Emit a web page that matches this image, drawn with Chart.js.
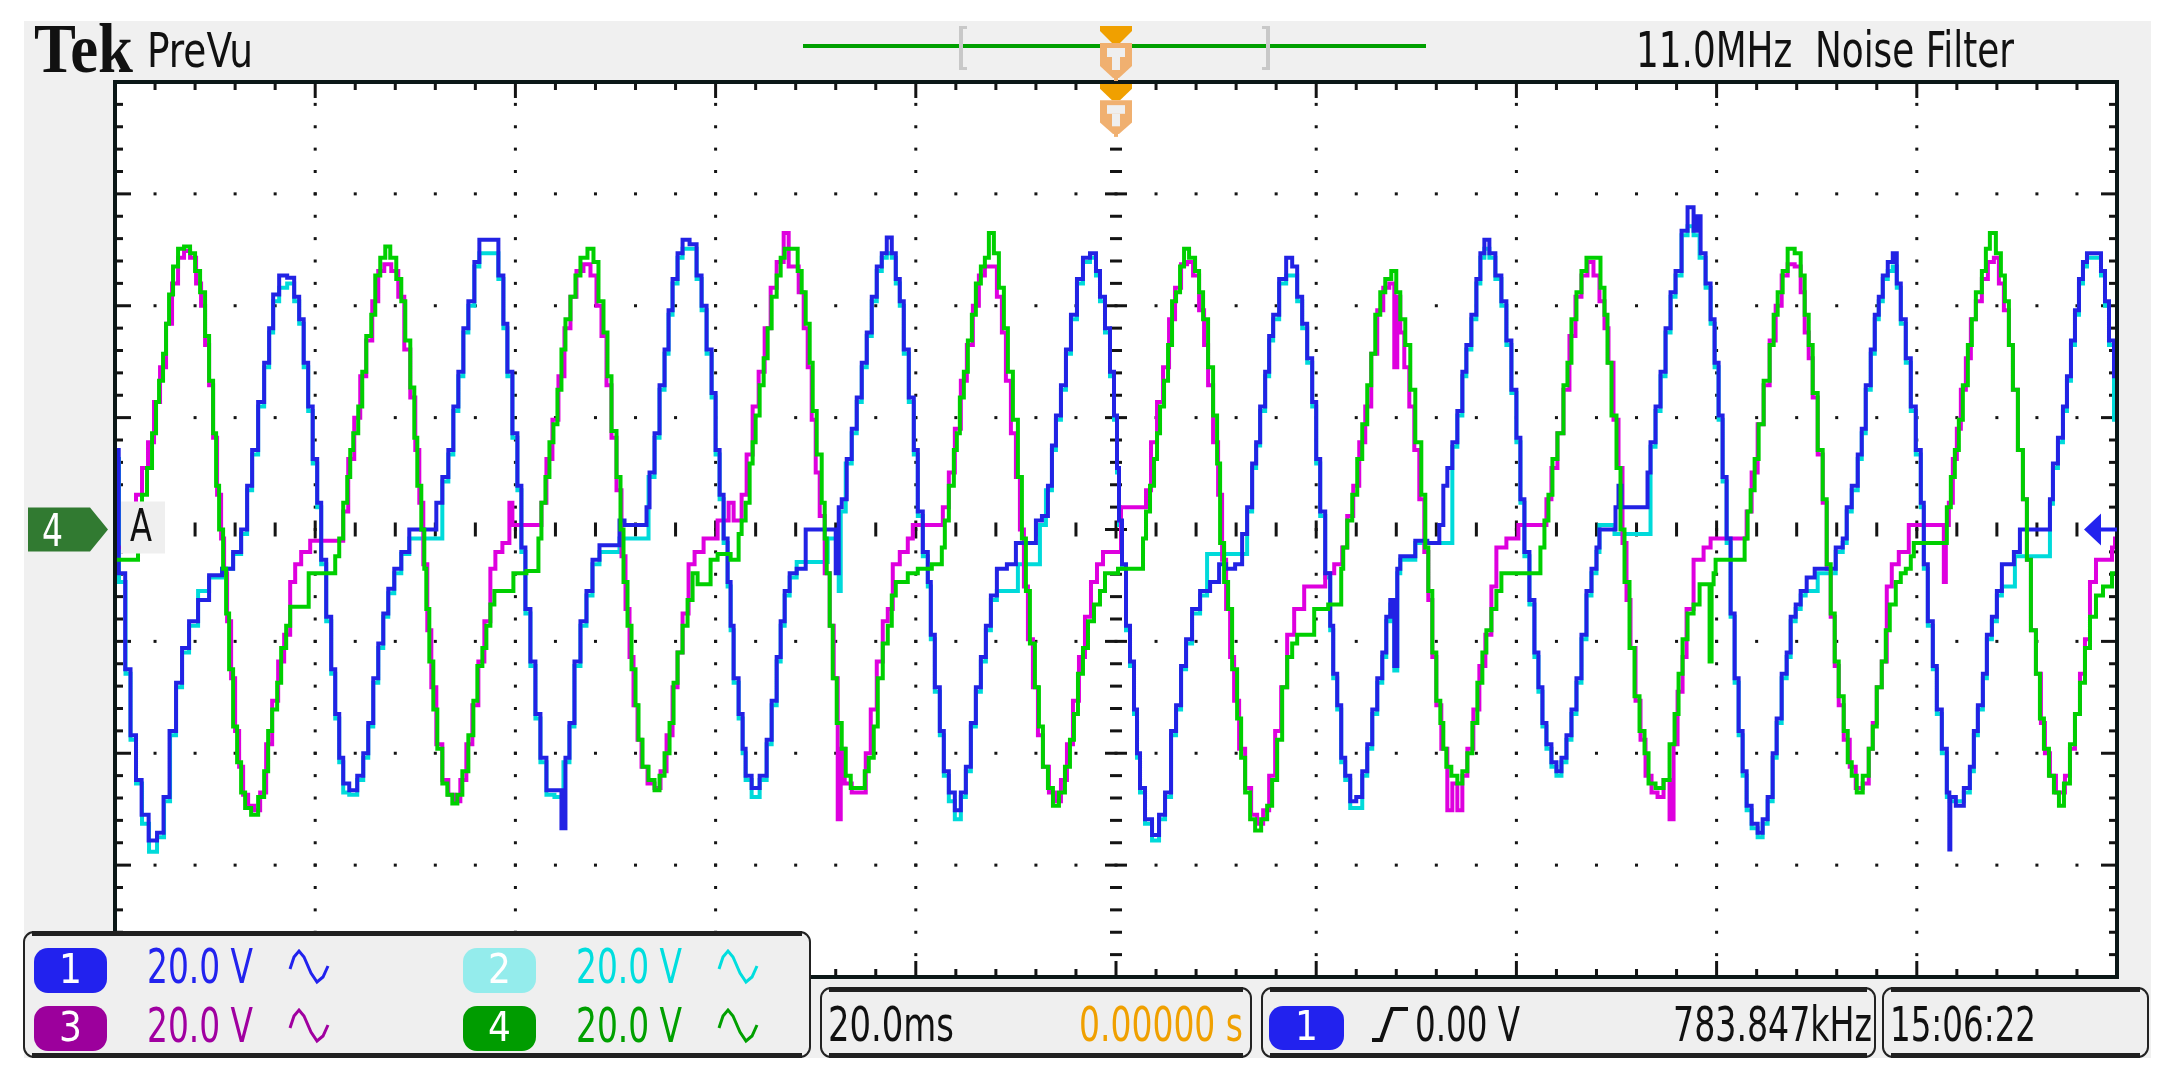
<!DOCTYPE html>
<html>
<head>
<meta charset="utf-8">
<title>Tek PreVu</title>
<script src="https://cdn.jsdelivr.net/npm/chart.js@4/dist/chart.umd.min.js"></script>
<style>
  body { margin: 0; background: #ffffff; }
  #grafica { display: block; }
</style>
</head>
<body>
<canvas id="grafica" width="2173" height="1084"></canvas>
<script>
// ejes en divisiones de la reticula: x 0..10 (20.0 ms/div), y -4..4 (20.0 V/div)
const canales = ["1", "2", "3", "4"]
const voltios_div = ["20.0 V", "20.0 V", "20.0 V", "20.0 V"]
const base_tiempo = "20.0ms"
const posicion = "0.00000 s"
const nivel_disparo = "0.00 V"
const frecuencia = "783.847kHz"
const hora = "15:06:22"
const filtro = "11.0MHz  Noise Filter"

// canal 1 (azul)
const canal1 = [[0.00,0.71],[0.037,-0.39],[0.065,-1.25],[0.09,-1.84],[0.12,-2.24],[0.146,-2.55],[0.19,-2.78],[0.23,-2.71],[0.255,-2.39],[0.29,-1.80],[0.32,-1.37],[0.35,-1.06],[0.39,-0.82],[0.44,-0.63],[0.50,-0.41],[0.57,-0.35],[0.61,-0.20],[0.65,0.00],[0.67,0.39],[0.70,0.71],[0.73,1.14],[0.76,1.49],[0.78,1.80],[0.80,2.10],[0.84,2.27],[0.88,2.25],[0.91,2.08],[0.93,1.88],[0.955,1.49],[0.975,1.10],[1.00,0.63],[1.02,0.24],[1.04,-0.27],[1.07,-0.78],[1.09,-1.25],[1.11,-1.65],[1.13,-2.04],[1.15,-2.27],[1.19,-2.33],[1.23,-2.20],[1.25,-2.00],[1.28,-1.73],[1.30,-1.33],[1.33,-1.02],[1.35,-0.75],[1.38,-0.53],[1.41,-0.35],[1.45,-0.20],[1.49,0.00],[1.59,0.00],[1.62,0.24],[1.65,0.47],[1.68,0.71],[1.70,1.10],[1.73,1.41],[1.75,1.80],[1.78,2.04],[1.81,2.39],[1.83,2.59],[1.90,2.59],[1.93,2.27],[1.95,1.84],[1.97,1.41],[2.00,0.86],[2.02,0.39],[2.04,-0.16],[2.06,-0.71],[2.09,-1.18],[2.11,-1.65],[2.14,-2.04],[2.17,-2.33],[2.22,-2.33],[2.24,-2.67],[2.26,-2.04],[2.28,-1.73],[2.31,-1.18],[2.34,-0.82],[2.37,-0.55],[2.40,-0.27],[2.44,-0.14],[2.51,-0.14],[2.53,0.08],[2.56,0.04],[2.65,0.04],[2.66,0.20],[2.68,0.51],[2.71,0.86],[2.73,1.29],[2.76,1.61],[2.77,1.96],[2.80,2.24],[2.82,2.47],[2.85,2.59],[2.89,2.55],[2.92,2.27],[2.94,2.00],[2.97,1.61],[2.99,1.22],[3.01,0.71],[3.03,0.31],[3.05,-0.08],[3.07,-0.47],[3.08,-0.86],[3.10,-1.33],[3.13,-1.65],[3.14,-1.96],[3.16,-2.20],[3.20,-2.31],[3.24,-2.20],[3.27,-1.88],[3.29,-1.53],[3.32,-1.14],[3.33,-0.82],[3.36,-0.55],[3.38,-0.39],[3.43,-0.35],[3.47,0.00],[3.59,0.00],[3.61,-0.39],[3.62,0.20],[3.64,0.27],[3.67,0.63],[3.69,0.90],[3.72,1.18],[3.74,1.49],[3.77,1.76],[3.79,2.08],[3.82,2.35],[3.84,2.47],[3.87,2.61],[3.89,2.47],[3.91,2.24],[3.93,2.04],[3.95,1.61],[3.98,1.18],[4.00,0.71],[4.02,0.16],[4.05,-0.20],[4.07,-0.47],[4.08,-0.94],[4.11,-1.41],[4.13,-1.80],[4.15,-2.16],[4.18,-2.35],[4.21,-2.51],[4.24,-2.35],[4.26,-2.12],[4.29,-1.73],[4.31,-1.41],[4.34,-1.14],[4.36,-0.86],[4.39,-0.59],[4.42,-0.35],[4.49,-0.31],[4.51,-0.12],[4.59,-0.12],[4.61,0.08],[4.65,0.12],[4.67,0.39],[4.69,0.75],[4.71,1.02],[4.74,1.29],[4.76,1.61],[4.79,1.92],[4.82,2.24],[4.85,2.43],[4.89,2.47],[4.91,2.31],[4.93,2.08],[4.96,1.80],[4.98,1.41],[5.00,1.02],[5.01,0.55],[5.02,0.08],[5.04,-0.31],[5.06,-0.86],[5.08,-1.18],[5.10,-1.61],[5.11,-2.00],[5.13,-2.31],[5.16,-2.59],[5.20,-2.73],[5.23,-2.55],[5.26,-2.35],[5.29,-1.80],[5.31,-1.57],[5.34,-1.22],[5.36,-0.98],[5.40,-0.71],[5.44,-0.55],[5.50,-0.47],[5.53,-0.31],[5.57,-0.35],[5.62,-0.31],[5.64,-0.04],[5.67,0.20],[5.69,0.59],[5.71,0.78],[5.73,1.10],[5.76,1.41],[5.77,1.73],[5.80,1.92],[5.83,2.24],[5.87,2.43],[5.89,2.35],[5.92,2.08],[5.94,1.84],[5.97,1.53],[5.99,1.14],[6.01,0.63],[6.03,0.16],[6.06,-0.39],[6.08,-0.86],[6.09,-1.29],[6.12,-1.57],[6.13,-2.04],[6.16,-2.20],[6.18,-2.43],[6.22,-2.39],[6.24,-2.16],[6.27,-1.92],[6.29,-1.61],[6.32,-1.33],[6.34,-1.10],[6.36,-0.78],[6.38,-0.63],[6.40,-1.22],[6.41,-0.35],[6.43,-0.24],[6.48,-0.24],[6.51,-0.10],[6.60,-0.12],[6.63,0.04],[6.64,0.39],[6.67,0.55],[6.69,0.78],[6.72,1.06],[6.74,1.41],[6.76,1.65],[6.79,1.92],[6.81,2.24],[6.83,2.47],[6.85,2.59],[6.88,2.47],[6.91,2.27],[6.94,2.04],[6.96,1.69],[6.99,1.25],[7.01,0.82],[7.03,0.27],[7.05,-0.20],[7.08,-0.63],[7.10,-1.10],[7.12,-1.41],[7.14,-1.73],[7.16,-1.92],[7.19,-2.08],[7.21,-2.16],[7.24,-2.04],[7.26,-1.84],[7.29,-1.61],[7.31,-1.33],[7.34,-0.94],[7.36,-0.55],[7.39,-0.35],[7.41,-0.16],[7.42,0.00],[7.49,0.00],[7.50,0.20],[7.52,0.39],[7.53,0.20],[7.65,0.20],[7.66,0.51],[7.68,0.78],[7.71,1.10],[7.73,1.41],[7.76,1.80],[7.78,2.12],[7.81,2.31],[7.84,2.67],[7.87,2.88],[7.90,2.67],[7.91,2.80],[7.93,2.47],[7.96,2.20],[7.98,1.88],[8.00,1.49],[8.02,1.02],[8.04,0.47],[8.06,-0.08],[8.08,-0.75],[8.10,-1.33],[8.12,-1.80],[8.14,-2.16],[8.16,-2.47],[8.19,-2.63],[8.22,-2.71],[8.24,-2.59],[8.27,-2.39],[8.29,-2.00],[8.31,-1.69],[8.34,-1.29],[8.36,-1.10],[8.38,-0.78],[8.41,-0.67],[8.43,-0.55],[8.47,-0.43],[8.51,-0.35],[8.57,-0.35],[8.62,-0.16],[8.64,-0.08],[8.66,0.20],[8.69,0.39],[8.72,0.67],[8.73,0.90],[8.76,1.29],[8.78,1.61],[8.80,1.92],[8.82,2.08],[8.84,2.27],[8.87,2.39],[8.89,2.47],[8.91,2.20],[8.93,1.88],[8.96,1.53],[8.98,1.10],[9.01,0.71],[9.03,0.24],[9.04,-0.31],[9.07,-0.82],[9.09,-1.22],[9.11,-1.61],[9.14,-1.96],[9.16,-2.35],[9.165,-2.86],[9.17,-2.39],[9.22,-2.47],[9.25,-2.31],[9.28,-2.12],[9.29,-1.80],[9.32,-1.57],[9.34,-1.29],[9.36,-0.94],[9.39,-0.78],[9.41,-0.55],[9.44,-0.31],[9.47,-0.31],[9.50,-0.20],[9.53,0.00],[9.66,0.00],[9.67,0.27],[9.69,0.59],[9.72,0.82],[9.74,1.10],[9.76,1.37],[9.78,1.69],[9.80,1.96],[9.82,2.24],[9.84,2.39],[9.86,2.47],[9.91,2.47],[9.93,2.31],[9.95,2.04],[9.97,1.69],[10.0,1.37]]

// canal 2 (cian)
const canal2 = [[0.00,0.63],[0.04,-0.47],[0.065,-1.29],[0.09,-1.88],[0.12,-2.27],[0.15,-2.63],[0.19,-2.88],[0.23,-2.75],[0.26,-2.43],[0.29,-1.84],[0.32,-1.41],[0.35,-1.10],[0.39,-0.86],[0.44,-0.55],[0.50,-0.43],[0.57,-0.35],[0.61,-0.22],[0.65,-0.04],[0.67,0.35],[0.70,0.67],[0.73,1.10],[0.76,1.45],[0.78,1.76],[0.80,2.04],[0.84,2.16],[0.88,2.20],[0.91,2.04],[0.93,1.84],[0.955,1.45],[0.975,1.06],[1.00,0.59],[1.02,0.20],[1.04,-0.31],[1.07,-0.82],[1.09,-1.29],[1.11,-1.69],[1.13,-2.08],[1.15,-2.35],[1.19,-2.37],[1.23,-2.24],[1.25,-2.04],[1.28,-1.76],[1.30,-1.37],[1.33,-1.06],[1.35,-0.78],[1.38,-0.57],[1.41,-0.39],[1.45,-0.22],[1.49,-0.08],[1.62,-0.08],[1.65,0.43],[1.68,0.67],[1.70,1.06],[1.73,1.37],[1.75,1.76],[1.78,2.00],[1.81,2.35],[1.83,2.47],[1.90,2.47],[1.93,2.24],[1.95,1.80],[1.97,1.37],[2.00,0.82],[2.02,0.35],[2.04,-0.20],[2.06,-0.75],[2.09,-1.22],[2.11,-1.69],[2.14,-2.08],[2.17,-2.37],[2.22,-2.39],[2.26,-2.08],[2.28,-1.76],[2.31,-1.22],[2.34,-0.86],[2.37,-0.59],[2.40,-0.31],[2.44,-0.20],[2.51,-0.20],[2.53,-0.08],[2.65,-0.08],[2.68,0.47],[2.71,0.82],[2.73,1.25],[2.76,1.57],[2.77,1.92],[2.80,2.20],[2.82,2.43],[2.85,2.51],[2.89,2.51],[2.92,2.24],[2.94,1.96],[2.97,1.57],[2.99,1.18],[3.01,0.67],[3.03,0.27],[3.05,-0.12],[3.07,-0.51],[3.08,-0.90],[3.10,-1.37],[3.13,-1.69],[3.14,-2.00],[3.16,-2.24],[3.20,-2.39],[3.24,-2.24],[3.27,-1.92],[3.29,-1.57],[3.32,-1.18],[3.33,-0.86],[3.36,-0.59],[3.38,-0.43],[3.43,-0.29],[3.55,-0.29],[3.57,-0.08],[3.61,-0.08],[3.62,-0.55],[3.63,0.16],[3.67,0.59],[3.69,0.86],[3.72,1.14],[3.74,1.45],[3.77,1.73],[3.79,2.04],[3.82,2.31],[3.84,2.43],[3.87,2.47],[3.89,2.43],[3.91,2.20],[3.93,2.00],[3.95,1.57],[3.98,1.14],[4.00,0.67],[4.02,0.12],[4.05,-0.24],[4.07,-0.51],[4.08,-0.98],[4.11,-1.45],[4.13,-1.84],[4.15,-2.20],[4.18,-2.43],[4.21,-2.59],[4.24,-2.39],[4.26,-2.16],[4.29,-1.76],[4.31,-1.45],[4.34,-1.18],[4.36,-0.90],[4.39,-0.63],[4.42,-0.55],[4.50,-0.55],[4.52,-0.31],[4.61,-0.31],[4.63,0.04],[4.67,0.35],[4.69,0.71],[4.71,0.98],[4.74,1.25],[4.76,1.57],[4.79,1.88],[4.82,2.20],[4.85,2.39],[4.89,2.43],[4.91,2.27],[4.93,2.04],[4.96,1.76],[4.98,1.37],[5.00,0.98],[5.01,0.51],[5.02,0.04],[5.04,-0.35],[5.06,-0.90],[5.08,-1.22],[5.10,-1.65],[5.11,-2.04],[5.13,-2.35],[5.16,-2.63],[5.20,-2.78],[5.23,-2.59],[5.26,-2.39],[5.29,-1.84],[5.31,-1.61],[5.34,-1.25],[5.36,-1.02],[5.40,-0.75],[5.44,-0.59],[5.47,-0.22],[5.64,-0.22],[5.67,0.16],[5.69,0.55],[5.71,0.75],[5.73,1.06],[5.76,1.37],[5.77,1.69],[5.80,1.88],[5.83,2.20],[5.87,2.27],[5.89,2.27],[5.92,2.04],[5.94,1.80],[5.97,1.49],[5.99,1.10],[6.01,0.59],[6.03,0.12],[6.06,-0.43],[6.08,-0.90],[6.09,-1.33],[6.12,-1.61],[6.13,-2.08],[6.16,-2.24],[6.18,-2.49],[6.22,-2.49],[6.24,-2.20],[6.27,-1.96],[6.29,-1.65],[6.32,-1.37],[6.34,-1.14],[6.36,-0.82],[6.38,-0.67],[6.40,-1.26],[6.41,-0.39],[6.43,-0.27],[6.48,-0.27],[6.51,-0.12],[6.67,-0.12],[6.69,0.74],[6.72,1.02],[6.74,1.37],[6.76,1.61],[6.79,1.88],[6.81,2.20],[6.83,2.43],[6.85,2.51],[6.88,2.43],[6.91,2.24],[6.94,2.00],[6.96,1.65],[6.99,1.22],[7.01,0.78],[7.03,0.24],[7.05,-0.24],[7.08,-0.67],[7.10,-1.14],[7.12,-1.45],[7.14,-1.76],[7.16,-1.96],[7.19,-2.12],[7.21,-2.20],[7.24,-2.08],[7.26,-1.88],[7.29,-1.65],[7.31,-1.37],[7.34,-0.98],[7.36,-0.59],[7.39,-0.39],[7.41,-0.20],[7.42,0.04],[7.48,0.04],[7.50,-0.04],[7.66,-0.04],[7.68,0.74],[7.71,1.06],[7.73,1.37],[7.76,1.76],[7.78,2.08],[7.81,2.27],[7.84,2.63],[7.87,2.71],[7.90,2.63],[7.93,2.43],[7.96,2.16],[7.98,1.84],[8.00,1.45],[8.02,0.98],[8.04,0.43],[8.06,-0.12],[8.08,-0.78],[8.10,-1.37],[8.12,-1.84],[8.14,-2.20],[8.16,-2.51],[8.19,-2.67],[8.22,-2.75],[8.24,-2.63],[8.27,-2.43],[8.29,-2.04],[8.31,-1.73],[8.34,-1.33],[8.36,-1.14],[8.38,-0.82],[8.41,-0.71],[8.43,-0.59],[8.46,-0.55],[8.50,-0.55],[8.51,-0.39],[8.57,-0.39],[8.62,-0.20],[8.64,-0.12],[8.66,0.16],[8.69,0.35],[8.72,0.63],[8.73,0.86],[8.76,1.25],[8.78,1.57],[8.80,1.88],[8.82,2.04],[8.84,2.24],[8.87,2.31],[8.89,2.35],[8.91,2.16],[8.93,1.84],[8.96,1.49],[8.98,1.06],[9.01,0.67],[9.03,0.20],[9.04,-0.35],[9.07,-0.86],[9.09,-1.25],[9.11,-1.65],[9.14,-2.00],[9.16,-2.39],[9.17,-2.43],[9.22,-2.43],[9.25,-2.35],[9.28,-2.16],[9.29,-1.84],[9.32,-1.61],[9.34,-1.33],[9.36,-0.98],[9.39,-0.82],[9.41,-0.59],[9.44,-0.51],[9.48,-0.51],[9.50,-0.24],[9.66,-0.24],[9.67,0.23],[9.69,0.55],[9.72,0.78],[9.74,1.06],[9.76,1.33],[9.78,1.65],[9.80,1.92],[9.82,2.20],[9.84,2.35],[9.86,2.43],[9.91,2.43],[9.93,2.27],[9.95,2.00],[9.97,1.65],[10.0,0.98]]

// canal 3 (magenta)
const canal3 = [[0.00,-0.16],[0.06,-0.16],[0.09,0.20],[0.12,0.31],[0.15,0.55],[0.18,0.78],[0.21,1.14],[0.24,1.45],[0.27,1.84],[0.30,2.20],[0.33,2.43],[0.36,2.49],[0.39,2.43],[0.42,2.20],[0.44,2.00],[0.46,1.65],[0.48,1.29],[0.50,0.82],[0.52,0.31],[0.54,-0.08],[0.55,-0.39],[0.57,-0.82],[0.59,-1.33],[0.61,-1.80],[0.63,-2.12],[0.65,-2.37],[0.68,-2.47],[0.71,-2.51],[0.74,-2.35],[0.77,-1.92],[0.80,-1.53],[0.83,-1.18],[0.86,-0.94],[0.89,-0.47],[0.91,-0.31],[0.95,-0.20],[1.00,-0.10],[1.13,-0.10],[1.15,0.16],[1.18,0.63],[1.21,1.00],[1.24,1.37],[1.27,1.69],[1.30,2.04],[1.33,2.31],[1.36,2.37],[1.40,2.31],[1.43,2.08],[1.46,1.61],[1.49,1.18],[1.51,0.71],[1.53,0.24],[1.55,-0.31],[1.57,-0.90],[1.59,-1.41],[1.62,-1.92],[1.65,-2.24],[1.68,-2.37],[1.71,-2.43],[1.74,-2.24],[1.77,-1.92],[1.80,-1.57],[1.83,-1.18],[1.86,-0.82],[1.89,-0.35],[1.91,-0.20],[1.96,-0.12],[1.98,0.24],[1.99,0.04],[2.12,0.04],[2.14,0.24],[2.17,0.63],[2.20,0.98],[2.23,1.37],[2.26,1.80],[2.29,2.08],[2.32,2.31],[2.36,2.37],[2.39,2.27],[2.42,2.00],[2.44,1.73],[2.47,1.29],[2.49,0.82],[2.52,0.35],[2.54,-0.24],[2.56,-0.71],[2.58,-1.14],[2.60,-1.57],[2.62,-1.88],[2.64,-2.12],[2.68,-2.27],[2.71,-2.31],[2.74,-2.16],[2.77,-1.84],[2.80,-1.41],[2.82,-1.10],[2.85,-0.75],[2.88,-0.31],[2.91,-0.20],[2.97,-0.08],[3.05,0.08],[3.08,0.24],[3.10,0.08],[3.12,0.08],[3.14,0.31],[3.17,0.67],[3.20,1.10],[3.23,1.41],[3.26,1.80],[3.29,2.16],[3.32,2.39],[3.36,2.65],[3.37,2.35],[3.40,2.35],[3.43,2.12],[3.45,1.80],[3.47,1.45],[3.49,0.98],[3.51,0.51],[3.53,0.12],[3.56,-0.39],[3.58,-0.86],[3.60,-1.33],[3.62,-2.59],[3.63,-1.96],[3.66,-2.27],[3.70,-2.35],[3.74,-2.35],[3.76,-2.00],[3.79,-1.61],[3.82,-1.18],[3.85,-0.82],[3.87,-0.71],[3.90,-0.31],[3.94,-0.20],[3.98,-0.08],[3.99,0.04],[4.12,0.04],[4.15,0.20],[4.18,0.51],[4.21,0.90],[4.24,1.33],[4.27,1.65],[4.30,2.00],[4.33,2.27],[4.36,2.35],[4.39,2.35],[4.42,2.08],[4.44,1.76],[4.46,1.33],[4.49,0.86],[4.51,0.47],[4.53,0.00],[4.55,-0.51],[4.57,-0.98],[4.60,-1.41],[4.62,-1.84],[4.65,-2.12],[4.68,-2.35],[4.71,-2.43],[4.74,-2.24],[4.77,-1.92],[4.80,-1.53],[4.83,-1.14],[4.86,-0.78],[4.89,-0.47],[4.92,-0.31],[4.95,-0.20],[5.02,-0.20],[5.03,0.20],[5.14,0.20],[5.16,0.35],[5.19,0.78],[5.22,1.14],[5.25,1.45],[5.28,1.88],[5.31,2.16],[5.34,2.37],[5.37,2.39],[5.40,2.27],[5.43,1.96],[5.45,1.65],[5.47,1.29],[5.50,0.78],[5.52,0.31],[5.54,-0.27],[5.56,-0.71],[5.58,-1.14],[5.60,-1.53],[5.63,-1.96],[5.66,-2.31],[5.69,-2.55],[5.72,-2.63],[5.75,-2.51],[5.78,-2.20],[5.81,-1.80],[5.84,-1.41],[5.87,-0.94],[5.91,-0.71],[5.97,-0.51],[6.03,-0.51],[6.06,-0.39],[6.12,-0.31],[6.14,-0.16],[6.17,0.12],[6.20,0.39],[6.23,0.78],[6.26,1.10],[6.29,1.57],[6.32,1.96],[6.35,2.16],[6.38,2.20],[6.40,1.45],[6.41,2.08],[6.43,1.76],[6.45,1.45],[6.48,1.10],[6.50,0.71],[6.53,0.27],[6.55,-0.20],[6.57,-0.63],[6.59,-1.14],[6.61,-1.57],[6.64,-1.96],[6.67,-2.51],[6.69,-2.27],[6.72,-2.51],[6.74,-2.20],[6.77,-1.96],[6.80,-1.61],[6.83,-1.22],[6.86,-0.94],[6.89,-0.51],[6.91,-0.16],[6.99,-0.08],[7.03,0.04],[7.14,0.04],[7.16,0.27],[7.19,0.55],[7.22,0.86],[7.25,1.25],[7.28,1.73],[7.31,2.08],[7.34,2.27],[7.37,2.39],[7.40,2.27],[7.43,2.04],[7.45,1.80],[7.47,1.49],[7.50,0.98],[7.52,0.55],[7.54,-0.12],[7.56,-0.63],[7.58,-1.06],[7.61,-1.53],[7.63,-1.88],[7.66,-2.20],[7.69,-2.35],[7.72,-2.39],[7.75,-2.24],[7.78,-2.59],[7.79,-1.92],[7.82,-1.45],[7.84,-1.14],[7.86,-0.71],[7.91,-0.27],[7.96,-0.16],[7.98,-0.08],[8.14,-0.08],[8.16,0.16],[8.19,0.51],[8.22,0.94],[8.25,1.29],[8.28,1.69],[8.31,2.00],[8.34,2.27],[8.37,2.37],[8.41,2.35],[8.43,2.12],[8.45,1.76],[8.47,1.53],[8.49,1.18],[8.52,0.67],[8.54,0.24],[8.56,-0.35],[8.58,-0.78],[8.60,-1.22],[8.62,-1.57],[8.65,-1.88],[8.68,-2.12],[8.71,-2.31],[8.75,-2.27],[8.77,-1.96],[8.79,-1.73],[8.81,-1.41],[8.84,-1.18],[8.86,-0.51],[8.89,-0.31],[8.93,-0.20],[8.99,0.04],[9.13,0.04],[9.14,-0.47],[9.15,0.04],[9.17,0.24],[9.19,0.63],[9.21,0.90],[9.23,1.25],[9.26,1.53],[9.28,1.88],[9.31,2.04],[9.34,2.24],[9.37,2.39],[9.40,2.43],[9.42,2.20],[9.45,1.96],[9.47,1.65],[9.49,1.25],[9.52,0.71],[9.54,0.27],[9.56,-0.27],[9.58,-0.90],[9.61,-1.29],[9.63,-1.73],[9.65,-2.00],[9.68,-2.20],[9.71,-2.35],[9.73,-2.35],[9.75,-2.20],[9.78,-1.96],[9.80,-1.65],[9.83,-1.29],[9.85,-0.98],[9.88,-0.47],[9.91,-0.27],[9.97,-0.27],[9.98,-0.16],[10.0,-0.08]]

// canal 4 (verde)
const canal4 = [[0.00,-0.27],[0.11,-0.27],[0.12,-0.04],[0.15,0.31],[0.17,0.55],[0.20,0.86],[0.21,1.14],[0.23,1.33],[0.25,1.57],[0.26,1.84],[0.28,2.10],[0.30,2.35],[0.33,2.51],[0.36,2.53],[0.39,2.47],[0.41,2.31],[0.44,2.12],[0.46,1.73],[0.48,1.33],[0.50,0.86],[0.51,0.39],[0.53,0.00],[0.55,-0.35],[0.56,-0.75],[0.58,-1.25],[0.60,-1.76],[0.62,-2.08],[0.64,-2.35],[0.66,-2.49],[0.70,-2.55],[0.73,-2.39],[0.76,-2.16],[0.77,-1.80],[0.80,-1.61],[0.82,-1.37],[0.84,-1.06],[0.87,-0.86],[0.88,-0.69],[0.96,-0.69],[0.975,-0.39],[1.09,-0.39],[1.11,-0.24],[1.13,-0.08],[1.15,0.24],[1.17,0.47],[1.18,0.71],[1.20,0.86],[1.23,1.10],[1.24,1.41],[1.27,1.73],[1.29,1.92],[1.31,2.27],[1.34,2.43],[1.36,2.53],[1.39,2.43],[1.42,2.24],[1.44,2.04],[1.46,1.69],[1.49,1.27],[1.50,0.82],[1.52,0.39],[1.54,0.00],[1.55,-0.35],[1.56,-0.71],[1.58,-1.18],[1.60,-1.61],[1.62,-1.96],[1.65,-2.27],[1.67,-2.37],[1.70,-2.45],[1.72,-2.37],[1.75,-2.16],[1.78,-1.84],[1.80,-1.53],[1.82,-1.22],[1.85,-1.06],[1.86,-0.86],[1.89,-0.67],[1.90,-0.55],[1.98,-0.55],[2.00,-0.39],[2.11,-0.37],[2.12,-0.08],[2.14,0.24],[2.16,0.47],[2.18,0.78],[2.20,0.94],[2.22,1.25],[2.24,1.61],[2.26,1.88],[2.29,2.08],[2.31,2.27],[2.34,2.43],[2.38,2.51],[2.40,2.39],[2.43,2.04],[2.45,1.76],[2.47,1.37],[2.49,0.88],[2.52,0.47],[2.53,0.00],[2.55,-0.47],[2.57,-0.86],[2.59,-1.25],[2.61,-1.57],[2.62,-1.88],[2.65,-2.12],[2.68,-2.24],[2.71,-2.33],[2.73,-2.20],[2.76,-2.00],[2.78,-1.73],[2.80,-1.37],[2.82,-1.10],[2.85,-0.86],[2.87,-0.63],[2.90,-0.39],[2.92,-0.49],[2.97,-0.49],[2.98,-0.27],[3.04,-0.22],[3.11,-0.27],[3.12,-0.04],[3.14,0.08],[3.16,0.24],[3.18,0.59],[3.19,0.78],[3.21,1.02],[3.23,1.29],[3.25,1.53],[3.27,1.80],[3.29,2.08],[3.32,2.27],[3.33,2.43],[3.36,2.51],[3.40,2.51],[3.42,2.31],[3.44,2.12],[3.46,1.84],[3.48,1.49],[3.49,1.06],[3.52,0.67],[3.54,0.24],[3.55,-0.08],[3.56,-0.39],[3.58,-0.86],[3.59,-1.33],[3.62,-1.73],[3.64,-1.96],[3.66,-2.20],[3.69,-2.31],[3.74,-2.31],[3.75,-2.16],[3.78,-2.04],[3.80,-1.76],[3.82,-1.33],[3.85,-1.02],[3.87,-0.86],[3.89,-0.59],[3.91,-0.47],[3.94,-0.47],[3.98,-0.39],[4.04,-0.35],[4.12,-0.31],[4.14,-0.16],[4.15,0.08],[4.18,0.39],[4.20,0.71],[4.21,0.86],[4.23,1.18],[4.25,1.41],[4.27,1.69],[4.29,1.92],[4.31,2.20],[4.34,2.35],[4.35,2.43],[4.38,2.65],[4.40,2.47],[4.43,2.16],[4.45,1.80],[4.47,1.41],[4.50,0.98],[4.52,0.47],[4.54,-0.08],[4.56,-0.55],[4.58,-1.02],[4.61,-1.41],[4.62,-1.76],[4.65,-2.12],[4.67,-2.31],[4.70,-2.47],[4.73,-2.35],[4.76,-2.12],[4.78,-1.88],[4.80,-1.65],[4.82,-1.29],[4.85,-1.06],[4.87,-0.82],[4.91,-0.67],[4.93,-0.55],[4.96,-0.39],[5.06,-0.35],[5.13,-0.35],[5.14,-0.08],[5.16,0.16],[5.18,0.39],[5.20,0.63],[5.21,0.86],[5.23,1.10],[5.25,1.33],[5.27,1.65],[5.29,2.04],[5.31,2.12],[5.33,2.35],[5.35,2.51],[5.38,2.43],[5.41,2.31],[5.42,2.12],[5.45,1.88],[5.47,1.45],[5.50,1.02],[5.51,0.59],[5.53,-0.12],[5.55,-0.47],[5.57,-0.71],[5.59,-1.25],[5.62,-1.69],[5.63,-2.04],[5.66,-2.35],[5.68,-2.59],[5.71,-2.69],[5.74,-2.59],[5.77,-2.47],[5.79,-2.24],[5.82,-1.88],[5.84,-1.41],[5.87,-1.14],[5.89,-1.02],[5.92,-0.94],[5.98,-0.94],[6.00,-0.71],[6.12,-0.67],[6.13,-0.35],[6.14,-0.16],[6.17,0.08],[6.19,0.31],[6.22,0.63],[6.24,0.94],[6.27,1.29],[6.28,1.57],[6.31,1.92],[6.33,2.12],[6.36,2.24],[6.39,2.31],[6.41,2.12],[6.43,1.88],[6.46,1.65],[6.48,1.25],[6.51,0.78],[6.54,0.31],[6.55,-0.16],[6.57,-0.55],[6.59,-1.10],[6.61,-1.53],[6.63,-1.73],[6.64,-1.96],[6.66,-2.12],[6.69,-2.20],[6.72,-2.27],[6.74,-2.16],[6.77,-2.00],[6.79,-1.73],[6.82,-1.37],[6.84,-1.10],[6.86,-0.90],[6.89,-0.71],[6.91,-0.55],[6.94,-0.39],[7.11,-0.39],[7.13,-0.16],[7.15,0.08],[7.17,0.31],[7.19,0.63],[7.22,0.86],[7.25,1.29],[7.26,1.49],[7.29,1.88],[7.31,2.12],[7.34,2.31],[7.36,2.43],[7.41,2.43],[7.43,2.16],[7.45,1.92],[7.46,1.49],[7.49,1.02],[7.51,0.55],[7.53,0.00],[7.55,-0.47],[7.58,-1.06],[7.60,-1.49],[7.63,-1.80],[7.65,-2.00],[7.67,-2.27],[7.72,-2.31],[7.75,-2.24],[7.78,-1.92],[7.80,-1.65],[7.82,-1.29],[7.84,-0.98],[7.87,-0.75],[7.90,-0.67],[7.93,-0.49],[7.96,-0.49],[7.97,-1.18],[7.98,-0.49],[7.99,-0.39],[8.00,-0.27],[8.13,-0.27],[8.15,-0.08],[8.16,0.16],[8.18,0.35],[8.20,0.63],[8.22,0.94],[8.25,1.33],[8.28,1.65],[8.29,1.92],[8.32,2.12],[8.34,2.31],[8.37,2.51],[8.41,2.47],[8.43,2.27],[8.45,1.92],[8.47,1.65],[8.49,1.22],[8.52,0.71],[8.54,0.27],[8.56,-0.31],[8.58,-0.75],[8.60,-1.18],[8.62,-1.49],[8.65,-1.80],[8.66,-2.08],[8.69,-2.20],[8.71,-2.35],[8.75,-2.20],[8.77,-1.96],[8.79,-1.76],[8.81,-1.41],[8.84,-1.18],[8.85,-0.90],[8.88,-0.67],[8.91,-0.47],[8.93,-0.39],[8.96,-0.35],[8.98,-0.24],[8.99,-0.12],[9.14,-0.12],[9.16,0.20],[9.18,0.47],[9.20,0.71],[9.22,0.98],[9.24,1.29],[9.27,1.65],[9.28,1.88],[9.31,2.12],[9.34,2.31],[9.35,2.51],[9.38,2.65],[9.41,2.47],[9.43,2.27],[9.45,2.04],[9.47,1.65],[9.49,1.25],[9.52,0.71],[9.54,0.27],[9.56,-0.27],[9.58,-0.90],[9.61,-1.29],[9.62,-1.69],[9.65,-1.96],[9.67,-2.20],[9.70,-2.35],[9.72,-2.47],[9.75,-2.27],[9.78,-1.92],[9.80,-1.65],[9.83,-1.37],[9.85,-1.06],[9.88,-0.78],[9.91,-0.59],[9.95,-0.51],[10.0,-0.39]]

const color_canal = ["#2222e4", "#00dada", "#de00de", "#00cf00"]
const color_insignia = ["#2222ee", "#94ecec", "#9c009c", "#009c00"]
const color_texto = ["#2222ee", "#00dede", "#a000a0", "#00a000"]

const letra = "'Liberation Sans Narrow', 'DejaVu Sans Condensed', 'Liberation Sans', sans-serif"
const letra_tek = "'Liberation Serif', 'DejaVu Serif', serif"

function texto(ctx, str, x, base, ancho, tam, color, fuente, peso) {
    ctx.save()
    ctx.font = (peso ? peso + " " : "") + tam + "px " + (fuente || letra)
    const w = ctx.measureText(str).width
    ctx.translate(x, base)
    ctx.scale(ancho / w, 1)
    ctx.fillStyle = color
    ctx.textBaseline = "alphabetic"
    ctx.fillText(str, 0, 0)
    ctx.restore()
}

// simbolo de acoplamiento AC
function onda(ctx, x, y, color) {
    ctx.save()
    ctx.strokeStyle = color
    ctx.lineWidth = 3
    ctx.beginPath()
    ctx.moveTo(x, y + 20)
    ctx.lineTo(x + 4, y + 8)
    ctx.lineTo(x + 9, y + 2)
    ctx.lineTo(x + 14, y + 8)
    ctx.lineTo(x + 21, y + 24)
    ctx.lineTo(x + 27, y + 33)
    ctx.lineTo(x + 33, y + 28)
    ctx.lineTo(x + 38, y + 17)
    ctx.stroke()
    ctx.restore()
}

function insignia(ctx, x, y, w, h, fondo, num) {
    ctx.fillStyle = fondo
    ctx.beginPath()
    ctx.roundRect(x, y, w, h, 14)
    ctx.fill()
    ctx.save()
    ctx.font = "40px " + letra
    ctx.fillStyle = "#ffffff"
    ctx.textAlign = "center"
    ctx.textBaseline = "middle"
    ctx.fillText(num, x + w / 2, y + h / 2 + 2)
    ctx.restore()
}

function caja(ctx, x1, y1, x2, y2) {
    ctx.fillStyle = "#efefef"
    ctx.strokeStyle = "#222222"
    ctx.lineWidth = 2
    ctx.beginPath()
    ctx.roundRect(x1, y1, x2 - x1, y2 - y1, 10)
    ctx.fill()
    ctx.stroke()
    ctx.fillStyle = "#202020"
    ctx.fillRect(x1 + 8, y1 - 1, x2 - x1 - 16, 5)
    ctx.fillRect(x1 + 8, y2 - 4, x2 - x1 - 16, 5)
}

function marca_disparo(ctx, cx, y0, alto) {
    const k = alto / 52
    ctx.fillStyle = "#f0a000"
    ctx.beginPath()
    ctx.moveTo(cx - 16, y0)
    ctx.lineTo(cx + 16, y0)
    ctx.lineTo(cx + 16, y0 + 5 * k)
    ctx.lineTo(cx + 4, y0 + 17 * k)
    ctx.lineTo(cx - 4, y0 + 17 * k)
    ctx.lineTo(cx - 16, y0 + 5 * k)
    ctx.closePath()
    ctx.fill()
    ctx.fillStyle = "#f0b070"
    ctx.beginPath()
    ctx.moveTo(cx - 16, y0 + 17 * k)
    ctx.lineTo(cx + 16, y0 + 17 * k)
    ctx.lineTo(cx + 16, y0 + 40 * k)
    ctx.lineTo(cx + 3, y0 + 52 * k)
    ctx.lineTo(cx - 3, y0 + 52 * k)
    ctx.lineTo(cx - 16, y0 + 40 * k)
    ctx.closePath()
    ctx.fill()
    ctx.fillRect(cx - 2, y0 + 50 * k, 4, 5 * k)
    ctx.fillStyle = "#efefef"
    ctx.fillRect(cx - 9, y0 + 22 * k, 18, 9 * k)
    ctx.fillRect(cx - 4, y0 + 31 * k, 8, 13 * k)
}

const reticula = {
    id: "reticula",
    beforeDraw(chart) {
        const ctx = chart.ctx
        const a = chart.chartArea
        ctx.save()
        ctx.fillStyle = "#ffffff"
        ctx.fillRect(0, 0, chart.width, chart.height)
        ctx.fillStyle = "#f0f0f0"
        ctx.fillRect(24, 21, 2127, 1037)
        ctx.fillStyle = "#ffffff"
        ctx.fillRect(a.left, a.top, a.right - a.left, a.bottom - a.top)

        const sx = chart.scales.x
        const sy = chart.scales.y
        ctx.fillStyle = "#141414"
        for (let i = 1; i < 10; i++) {
            if (i == 5) continue
            const px = sx.getPixelForValue(i)
            for (let k = -20; k <= 20; k++) {
                ctx.fillRect(px - 1.5, sy.getPixelForValue(k * 0.2) - 1.5, 3, 3)
            }
        }
        for (let j = -3; j <= 3; j++) {
            if (j == 0) continue
            const py = sy.getPixelForValue(j)
            for (let k = 0; k <= 50; k++) {
                ctx.fillRect(sx.getPixelForValue(k * 0.2) - 1.5, py - 1.5, 3, 3)
            }
        }
        // cruz central
        const cx = sx.getPixelForValue(5)
        const cy = sy.getPixelForValue(0)
        for (let k = -20; k <= 20; k++) {
            const w = (k % 5 == 0) ? 22 : 12
            ctx.fillRect(cx - w / 2, sy.getPixelForValue(k * 0.2) - 1.5, w, 3)
        }
        for (let k = 0; k <= 50; k++) {
            const h = (k % 5 == 0) ? 18 : 14
            ctx.fillRect(sx.getPixelForValue(k * 0.2) - 1.5, cy - h / 2, 3, h)
        }
        // marcas del borde
        for (let k = 0; k <= 50; k++) {
            const px = sx.getPixelForValue(k * 0.2)
            const l = (k % 5 == 0) ? 16 : 8
            ctx.fillRect(px - 1.5, a.top, 3, l)
            ctx.fillRect(px - 1.5, a.bottom - l, 3, l)
        }
        for (let k = -20; k <= 20; k++) {
            const py = sy.getPixelForValue(k * 0.2)
            const l = (k % 5 == 0) ? 16 : 8
            ctx.fillRect(a.left, py - 1.5, l, 3)
            ctx.fillRect(a.right - l, py - 1.5, l, 3)
        }
        ctx.restore()
    },
    afterDatasetsDraw(chart) {
        const ctx = chart.ctx
        const a = chart.chartArea
        ctx.save()
        ctx.strokeStyle = "#0b1717"
        ctx.lineWidth = 4
        ctx.strokeRect(a.left, a.top, a.right - a.left, a.bottom - a.top)
        ctx.restore()
    },
    afterDraw(chart) {
        const ctx = chart.ctx
        const sx = chart.scales.x
        const sy = chart.scales.y
        const cx = sx.getPixelForValue(5)
        const cy = sy.getPixelForValue(0)
        ctx.save()

        // barra superior
        texto(ctx, "Tek", 34, 72, 99, 70, "#111111", letra_tek, "bold")
        texto(ctx, "PreVu", 147, 67, 106, 48, "#111111")
        texto(ctx, filtro, 1636, 67, 378, 50, "#111111")
        ctx.fillStyle = "#00a000"
        ctx.fillRect(803, 44, 623, 4)
        ctx.fillStyle = "#c8c8c8"
        ctx.fillRect(959, 26, 4, 44)
        ctx.fillRect(959, 26, 8, 3)
        ctx.fillRect(959, 67, 8, 3)
        ctx.fillRect(1266, 26, 4, 44)
        ctx.fillRect(1262, 26, 8, 3)
        ctx.fillRect(1262, 67, 8, 3)
        marca_disparo(ctx, cx, 26, 52)
        marca_disparo(ctx, cx, 84, 50)

        // marcador del canal 4 y cuadro A
        ctx.fillStyle = "#317a31"
        ctx.beginPath()
        ctx.moveTo(28, cy - 22)
        ctx.lineTo(90, cy - 22)
        ctx.lineTo(108, cy)
        ctx.lineTo(90, cy + 22)
        ctx.lineTo(28, cy + 22)
        ctx.closePath()
        ctx.fill()
        texto(ctx, canales[3], 42, cy + 16, 21, 44, "#ffffff")
        ctx.fillStyle = "#efefef"
        ctx.fillRect(121, cy - 28, 44, 52)
        texto(ctx, "A", 130, cy + 11, 22, 44, "#111111")

        // nivel de disparo a la derecha
        ctx.fillStyle = color_insignia[0]
        ctx.beginPath()
        ctx.moveTo(2084, cy)
        ctx.lineTo(2101, cy - 16)
        ctx.lineTo(2101, cy + 16)
        ctx.closePath()
        ctx.fill()
        ctx.fillRect(2100, cy - 2, 17, 4)

        // cuadro de canales
        caja(ctx, 24, 932, 810, 1057)
        const filas = [[34, 948, 983], [463, 948, 983], [34, 1006, 1042], [463, 1006, 1042]]
        for (let i = 0; i < 4; i++) {
            const f = filas[i]
            insignia(ctx, f[0], f[1], 73, 45, color_insignia[i], canales[i])
            texto(ctx, voltios_div[i], f[0] + 113, f[2], 106, 48, color_texto[i])
            onda(ctx, f[0] + 256, f[2] - 34, color_texto[i])
        }

        // base de tiempo, disparo y hora
        caja(ctx, 821, 988, 1251, 1057)
        texto(ctx, base_tiempo, 828, 1041, 126, 48, "#111111")
        texto(ctx, posicion, 1079, 1041, 164, 48, "#f0a000")
        caja(ctx, 1262, 988, 1875, 1057)
        insignia(ctx, 1269, 1006, 75, 44, color_insignia[0], canales[0])
        ctx.strokeStyle = "#111111"
        ctx.lineWidth = 4
        ctx.beginPath()
        ctx.moveTo(1372, 1040)
        ctx.lineTo(1381, 1040)
        ctx.lineTo(1392, 1009)
        ctx.lineTo(1408, 1009)
        ctx.stroke()
        texto(ctx, nivel_disparo, 1415, 1041, 105, 48, "#111111")
        texto(ctx, frecuencia, 1673, 1041, 199, 48, "#111111")
        caja(ctx, 1883, 988, 2148, 1057)
        texto(ctx, hora, 1890, 1041, 146, 48, "#111111")
        ctx.restore()
    }
}

function serie(puntos, i, orden) {
    return {
        label: "CH" + canales[i],
        data: puntos.map(p => ({ x: p[0], y: p[1] })),
        borderColor: color_canal[i],
        borderWidth: 4,
        pointRadius: 0,
        stepped: "middle",
        order: orden,
    }
}

function crear_grafico() {
    const $grafica = document.querySelector("#grafica")
    new Chart($grafica, {
        type: "line",
        data: {
            datasets: [
                serie(canal4, 3, 0),
                serie(canal1, 0, 1),
                serie(canal3, 2, 2),
                serie(canal2, 1, 3),
            ],
        },
        options: {
            responsive: false,
            devicePixelRatio: 1,
            animation: false,
            events: [],
            layout: { padding: { left: 115, right: 56, top: 82, bottom: 107 } },
            scales: {
                x: { type: "linear", min: 0, max: 10, display: false },
                y: { type: "linear", min: -4, max: 4, display: false },
            },
            plugins: {
                legend: { display: false },
                tooltip: { enabled: false },
            },
        },
        plugins: [reticula],
    })
}

crear_grafico()
</script>
</body>
</html>
